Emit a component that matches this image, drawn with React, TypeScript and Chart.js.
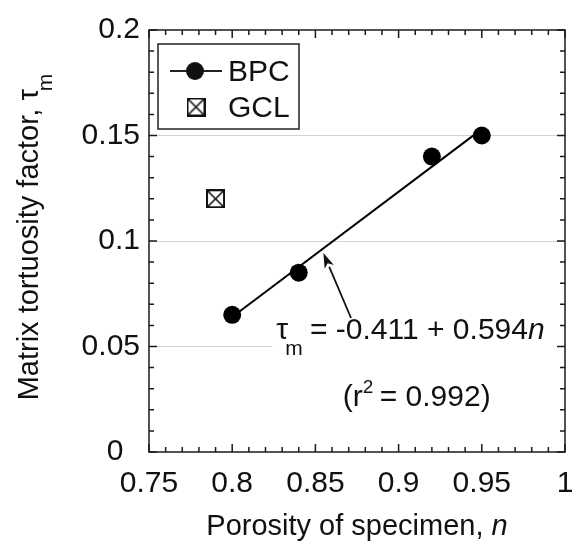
import React, { useEffect, useRef } from 'react';
import { Chart, registerables } from 'chart.js';

Chart.register(...registerables);

// ---- data ----
const bpcPorosity = [0.8, 0.84, 0.92, 0.95];
const bpcTortuosity = [0.065, 0.085, 0.14, 0.15];
const gclPorosity = [0.79];
const gclTortuosity = [0.12];
const fitPorosity = [0.8, 0.95];
const fitTortuosity = [0.064, 0.153];
const xTicks = [0.75, 0.8, 0.85, 0.9, 0.95, 1];
const xTickLabels = ['0.75', '0.8', '0.85', '0.9', '0.95', '1'];
const yTicks = [0, 0.05, 0.1, 0.15, 0.2];
const yTickLabels = ['0', '0.05', '0.1', '0.15', '0.2'];
const gridValues = [0.05, 0.1, 0.15];

// annotation anchors (data coordinates)
const arrowTail = { x: 0.8714, y: 0.0635 };
const arrowTip = { x: 0.8548, y: 0.0943 };
const equationAnchor = { x: 0.8265, y: 0.0536 };
const r2Anchor = { x: 0.8665, y: 0.0218 };

const FONT = '"Liberation Sans", Arial, Helvetica, sans-serif';
const W = 576;
const H = 544;

function makeBoxX(size: number): HTMLCanvasElement {
  const c = document.createElement('canvas');
  c.width = size;
  c.height = size;
  const g = c.getContext('2d')!;
  g.strokeStyle = '#111';
  g.lineWidth = 2;
  g.fillStyle = '#fff';
  g.fillRect(1, 1, size - 2, size - 2);
  g.strokeRect(1, 1, size - 2, size - 2);
  g.beginPath();
  g.moveTo(2, 2);
  g.lineTo(size - 2, size - 2);
  g.moveTo(size - 2, 2);
  g.lineTo(2, size - 2);
  g.lineWidth = 1.6;
  g.stroke();
  return c;
}

export default function App() {
  const ref = useRef<HTMLCanvasElement>(null);

  useEffect(() => {
    const canvas = ref.current!;
    const boxX = makeBoxX(19);

    const decor = {
      id: 'decor',
      beforeDatasetsDraw(chart: any) {
        const { ctx, chartArea: ca, scales } = chart;
        const ex = scales.x.getPixelForValue(equationAnchor.x);
        const ey = scales.y.getPixelForValue(equationAnchor.y);
        ctx.save();
        ctx.fillStyle = '#fff';
        ctx.fillRect(ex - 4, ey - 24, ca.right - (ex - 4) - 1, 44);
        ctx.restore();
      },
      afterDatasetsDraw(chart: any) {
        const { ctx, chartArea: ca, scales } = chart;
        const xs = scales.x;
        const ys = scales.y;
        ctx.save();

        // frame
        ctx.strokeStyle = '#1a1a1a';
        ctx.lineWidth = 1.5;
        ctx.strokeRect(ca.left, ca.top, ca.right - ca.left, ca.bottom - ca.top);

        // inward ticks
        ctx.lineWidth = 1.5;
        ctx.beginPath();
        for (let i = 0; i <= 25; i++) {
          const v = 0.75 + i * 0.01;
          const px = xs.getPixelForValue(v);
          const len = i % 5 === 0 ? 8 : 5;
          ctx.moveTo(px, ca.bottom);
          ctx.lineTo(px, ca.bottom - len);
          ctx.moveTo(px, ca.top);
          ctx.lineTo(px, ca.top + len);
        }
        for (let i = 0; i <= 20; i++) {
          const v = i * 0.01;
          const py = ys.getPixelForValue(v);
          const len = i % 5 === 0 ? 8 : 5;
          ctx.moveTo(ca.left, py);
          ctx.lineTo(ca.left + len, py);
          ctx.moveTo(ca.right, py);
          ctx.lineTo(ca.right - len, py);
        }
        ctx.stroke();

        ctx.fillStyle = '#111';
        ctx.textBaseline = 'alphabetic';

        // equation
        const ex = xs.getPixelForValue(equationAnchor.x);
        const ey = ys.getPixelForValue(equationAnchor.y);
        ctx.font = `30px ${FONT}`;
        ctx.textAlign = 'left';
        ctx.fillText('τ', ex, ey);
        const tw = ctx.measureText('τ').width;
        ctx.font = `21px ${FONT}`;
        ctx.fillText('m', ex + tw - 3, ey + 16);
        const mw = ctx.measureText('m').width;
        ctx.font = `30px ${FONT}`;
        const eqMain = ' = -0.411 + 0.594';
        const eqX = ex + tw - 3 + mw - 1;
        ctx.fillText(eqMain, eqX, ey);
        const eqw = ctx.measureText(eqMain).width;
        ctx.font = `italic 30px ${FONT}`;
        ctx.fillText('n', eqX + eqw, ey);

        // r^2
        const rx = xs.getPixelForValue(r2Anchor.x);
        const ry = ys.getPixelForValue(r2Anchor.y);
        ctx.font = `30px ${FONT}`;
        ctx.fillText('(r', rx, ry);
        const rw = ctx.measureText('(r').width;
        ctx.font = `19px ${FONT}`;
        ctx.fillText('2', rx + rw, ry - 13);
        const sw = ctx.measureText('2').width;
        ctx.font = `30px ${FONT}`;
        ctx.fillText(' = 0.992)', rx + rw + sw - 2, ry);

        // arrow
        const tx = xs.getPixelForValue(arrowTail.x);
        const ty = ys.getPixelForValue(arrowTail.y);
        const hx = xs.getPixelForValue(arrowTip.x);
        const hy = ys.getPixelForValue(arrowTip.y);
        const ang = Math.atan2(hy - ty, hx - tx);
        const hl = 15;
        const hw = 5;
        const bx = hx - hl * Math.cos(ang);
        const by = hy - hl * Math.sin(ang);
        ctx.strokeStyle = '#111';
        ctx.lineWidth = 1.8;
        ctx.beginPath();
        ctx.moveTo(tx, ty);
        ctx.lineTo(bx, by);
        ctx.stroke();
        ctx.beginPath();
        ctx.moveTo(hx, hy);
        ctx.lineTo(bx + hw * Math.sin(ang), by - hw * Math.cos(ang));
        ctx.lineTo(bx + 4 * Math.cos(ang), by + 4 * Math.sin(ang));
        ctx.lineTo(bx - hw * Math.sin(ang), by + hw * Math.cos(ang));
        ctx.closePath();
        ctx.fill();

        // legend
        const lx = ca.left + 9;
        const ly = ca.top + 14;
        ctx.lineWidth = 1.5;
        ctx.strokeStyle = '#222';
        ctx.strokeRect(lx, ly, 141, 85);
        ctx.beginPath();
        ctx.lineWidth = 2;
        ctx.moveTo(lx + 12, ly + 27);
        ctx.lineTo(lx + 64, ly + 27);
        ctx.stroke();
        ctx.beginPath();
        ctx.arc(lx + 37, ly + 27, 9, 0, Math.PI * 2);
        ctx.fill();
        ctx.drawImage(boxX, lx + 38 - 9.5, ly + 63 - 9.5);
        ctx.font = `30px ${FONT}`;
        ctx.fillText('BPC', lx + 70, ly + 37);
        ctx.fillText('GCL', lx + 70, ly + 73);

        // axis titles
        ctx.font = `29px ${FONT}`;
        const xt1 = 'Porosity of specimen, ';
        const xw1 = ctx.measureText(xt1).width;
        ctx.font = `italic 29px ${FONT}`;
        const xw2 = ctx.measureText('n').width;
        const xc = (ca.left + ca.right) / 2;
        const xStart = xc - (xw1 + xw2) / 2;
        ctx.font = `29px ${FONT}`;
        ctx.fillText(xt1, xStart, 535);
        ctx.font = `italic 29px ${FONT}`;
        ctx.fillText('n', xStart + xw1, 535);

        ctx.translate(38, (ca.top + ca.bottom) / 2 - 4);
        ctx.rotate(-Math.PI / 2);
        ctx.font = `29px ${FONT}`;
        const yt = 'Matrix tortuosity factor, τ';
        const yw = ctx.measureText(yt).width;
        ctx.font = `21px ${FONT}`;
        const ymw = ctx.measureText('m').width;
        const total = yw + ymw - 2;
        ctx.font = `29px ${FONT}`;
        ctx.fillText(yt, -total / 2, 0);
        ctx.font = `21px ${FONT}`;
        ctx.fillText('m', -total / 2 + yw - 2, 14);

        ctx.restore();
      },
    };

    const chart = new Chart(canvas, {
      type: 'scatter',
      data: {
        datasets: [
          {
            label: 'BPC',
            data: bpcPorosity.map((x, i) => ({ x, y: bpcTortuosity[i] })),
            pointRadius: 9,
            pointBackgroundColor: '#000',
            pointBorderColor: '#000',
            pointBorderWidth: 0,
            showLine: false,
            order: 0,
          },
          {
            label: 'GCL',
            data: gclPorosity.map((x, i) => ({ x, y: gclTortuosity[i] })),
            pointStyle: boxX as any,
            pointRadius: 10,
            showLine: false,
            order: 0,
          },
          {
            label: 'fit',
            data: fitPorosity.map((x, i) => ({ x, y: fitTortuosity[i] })),
            showLine: true,
            borderColor: '#000',
            borderWidth: 2,
            pointRadius: 0,
            order: 1,
          },
        ],
      },
      options: {
        responsive: false,
        animation: false,
        devicePixelRatio: 1,
        layout: { padding: { top: 30, right: 7, left: 0, bottom: 0 } },
        plugins: { legend: { display: false }, tooltip: { enabled: false } },
        scales: {
          x: {
            type: 'linear',
            min: 0.75,
            max: 1,
            afterBuildTicks: (s: any) => {
              s.ticks = xTicks.map((v) => ({ value: v }));
            },
            afterFit: (s: any) => {
              s.height = 92;
              s.paddingLeft = 0;
              s.paddingRight = 0;
            },
            grid: { display: false, drawTicks: false },
            border: { display: false },
            ticks: {
              padding: 14,
              color: '#111',
              font: { size: 30, family: FONT },
              maxRotation: 0,
              callback: (v: any) => {
                const i = xTicks.findIndex((t) => Math.abs(t - v) < 1e-9);
                return i >= 0 ? xTickLabels[i] : '';
              },
            },
          },
          y: {
            type: 'linear',
            min: 0,
            max: 0.2,
            afterBuildTicks: (s: any) => {
              s.ticks = yTicks.map((v) => ({ value: v }));
            },
            afterFit: (s: any) => {
              s.width = 149;
              s.paddingTop = 0;
              s.paddingBottom = 0;
            },
            grid: {
              drawTicks: false,
              lineWidth: 1,
              color: (c: any) =>
                gridValues.some((g) => Math.abs(g - c.tick.value) < 1e-9) ? '#d2d2d2' : 'rgba(0,0,0,0)',
            },
            border: { display: false },
            ticks: {
              padding: 9,
              color: '#111',
              font: { size: 30, family: FONT },
              callback: (v: any) => {
                const i = yTicks.findIndex((t) => Math.abs(t - v) < 1e-9);
                if (i < 0) return '';
                // the zero label sits one digit-width left of the column in the original
                return yTickLabels[i] === '0' ? '0\u2007' : yTickLabels[i];
              },
            },
          },
        },
      },
      plugins: [decor],
    });

    return () => chart.destroy();
  }, []);

  return (
    <div style={{ position: 'fixed', left: 0, top: 0, width: W, height: H, background: '#fff' }}>
      <canvas ref={ref} width={W} height={H} style={{ width: W, height: H, display: 'block' }} />
    </div>
  );
}
